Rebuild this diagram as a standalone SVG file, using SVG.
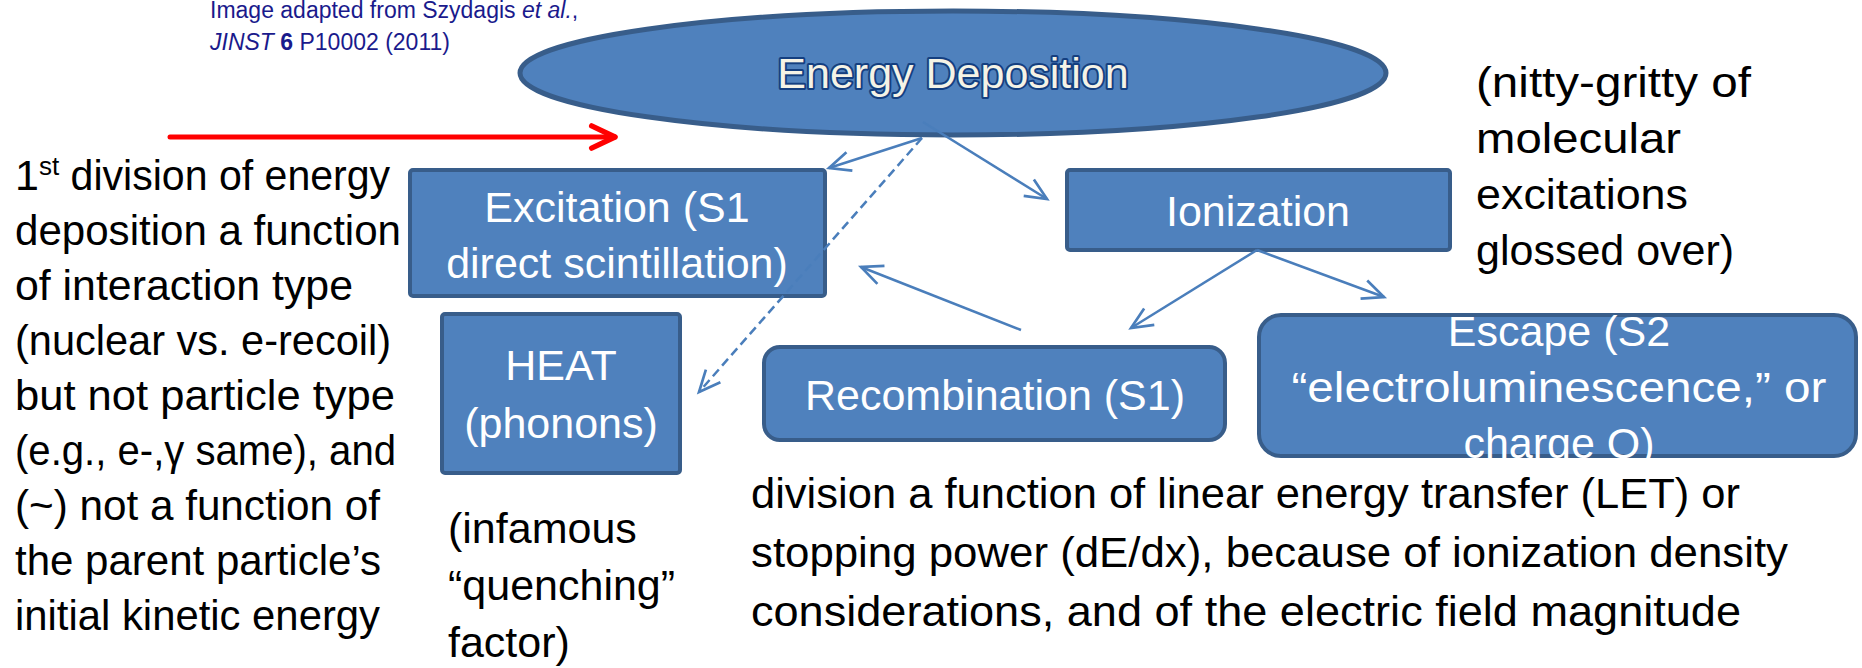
<svg xmlns="http://www.w3.org/2000/svg" width="1862" height="668" viewBox="0 0 1862 668">
<defs>
<style>
.box{fill:#4F81BD;stroke:#385D8A;stroke-width:4}
.bt{font-family:"Liberation Sans",Arial,sans-serif;font-size:43px;fill:#FFFFFF;text-anchor:middle}
.tx{font-family:"Liberation Sans",Arial,sans-serif;font-size:43px;fill:#000000}
.cite{font-family:"Liberation Sans",Arial,sans-serif;font-size:23px;fill:#1A1A8C}
.conn{fill:none;stroke:#4A7EBB;stroke-width:2.5}
.dash{stroke-dasharray:9 5}
</style>
<marker id="ah" markerUnits="userSpaceOnUse" markerWidth="30" markerHeight="30" viewBox="-24 -12 28 24" refX="0" refY="0" orient="auto">
<path d="M-20,-9 L0,0 L-20,9" fill="none" stroke="#4A7EBB" stroke-width="2.5" stroke-linejoin="miter"/>
</marker>
<marker id="ahr" markerUnits="userSpaceOnUse" markerWidth="34" markerHeight="34" viewBox="-28 -14 32 28" refX="0" refY="0" orient="auto">
<path d="M-22,-10.5 L0,0 L-22,10.5" fill="none" stroke="#FF0000" stroke-width="5" stroke-linecap="round" stroke-linejoin="round"/>
</marker>
</defs>

<g id="citation">
<text class="cite" x="210" y="18">Image adapted from Szydagis <tspan font-style="italic">et al.</tspan>,</text>
<text class="cite" x="210" y="50"><tspan font-style="italic">JINST</tspan> <tspan font-weight="bold">6</tspan> P10002 (2011)</text>
</g>

<g id="energy-deposition">
<ellipse cx="953" cy="73" rx="433" ry="62" fill="#4F81BD" stroke="#385D8A" stroke-width="5"/>
<text x="953" y="88" text-anchor="middle" font-family="'Liberation Sans',Arial,sans-serif" font-size="43" fill="#F5F3E6" stroke="#143F80" stroke-width="4" stroke-linejoin="round" paint-order="stroke">Energy Deposition</text>
</g>

<g id="excitation">
<rect class="box" x="410" y="170" width="415" height="126" rx="3"/>
<text class="bt" x="617" y="222">Excitation (S1</text>
<text class="bt" x="617" y="278">direct scintillation)</text>
</g>

<g id="ionization">
<rect class="box" x="1067" y="170" width="383" height="80" rx="3"/>
<text class="bt" x="1258" y="226">Ionization</text>
</g>

<g id="heat">
<rect class="box" x="442" y="314" width="238" height="159" rx="3"/>
<text class="bt" x="561" y="380">HEAT</text>
<text class="bt" x="561" y="438">(phonons)</text>
</g>

<g id="recombination">
<rect class="box" x="764" y="347" width="461" height="93" rx="16"/>
<text class="bt" x="995" y="410">Recombination (S1)</text>
</g>

<g id="escape">
<rect class="box" x="1259" y="315" width="597" height="141" rx="22"/>
<text class="bt" x="1559" y="346">Escape (S2</text>
<text class="bt" x="1559" y="402" textLength="535" lengthAdjust="spacingAndGlyphs">“electroluminescence,” or</text>
<text class="bt" x="1559" y="458">charge Q)</text>
</g>

<g id="connectors">
<line x1="170" y1="137" x2="615" y2="137" stroke="#FF0000" stroke-width="5" stroke-linecap="round" marker-end="url(#ahr)"/>
<line class="conn" x1="922" y1="138" x2="829" y2="168" marker-end="url(#ah)"/>
<line class="conn dash" x1="922" y1="138" x2="699" y2="392" marker-end="url(#ah)"/>
<line class="conn" x1="923" y1="122" x2="1047" y2="199" marker-end="url(#ah)"/>
<line class="conn" x1="1257" y1="250" x2="1131" y2="328" marker-end="url(#ah)"/>
<line class="conn" x1="1257" y1="250" x2="1384" y2="297" marker-end="url(#ah)"/>
<line class="conn" x1="1021" y1="330" x2="861" y2="267" marker-end="url(#ah)"/>
</g>

<g id="left-note">
<text class="tx" x="15" y="190">1<tspan font-size="26" dy="-15">st</tspan><tspan dy="15" textLength="331" lengthAdjust="spacingAndGlyphs"> division of energy</tspan></text>
<text class="tx" x="15" y="245" textLength="386" lengthAdjust="spacingAndGlyphs">deposition a function</text>
<text class="tx" x="15" y="300" textLength="338" lengthAdjust="spacingAndGlyphs">of interaction type</text>
<text class="tx" x="15" y="355" textLength="376" lengthAdjust="spacingAndGlyphs">(nuclear vs. e-recoil)</text>
<text class="tx" x="15" y="410" textLength="380" lengthAdjust="spacingAndGlyphs">but not particle type</text>
<text class="tx" x="15" y="465" textLength="381" lengthAdjust="spacingAndGlyphs">(e.g., e-,γ same), and</text>
<text class="tx" x="15" y="520" textLength="365" lengthAdjust="spacingAndGlyphs">(~) not a function of</text>
<text class="tx" x="15" y="575" textLength="366" lengthAdjust="spacingAndGlyphs">the parent particle’s</text>
<text class="tx" x="15" y="630" textLength="365" lengthAdjust="spacingAndGlyphs">initial kinetic energy</text>
</g>

<g id="right-note">
<text class="tx" x="1476" y="97" textLength="275" lengthAdjust="spacingAndGlyphs">(nitty-gritty of</text>
<text class="tx" x="1476" y="153" textLength="205" lengthAdjust="spacingAndGlyphs">molecular</text>
<text class="tx" x="1476" y="209" textLength="212" lengthAdjust="spacingAndGlyphs">excitations</text>
<text class="tx" x="1476" y="265">glossed over)</text>
</g>

<g id="quenching-note">
<text class="tx" x="448" y="543">(infamous</text>
<text class="tx" x="448" y="600">“quenching”</text>
<text class="tx" x="448" y="657">factor)</text>
</g>

<g id="bottom-note">
<text class="tx" x="751" y="508" textLength="989" lengthAdjust="spacingAndGlyphs">division a function of linear energy transfer (LET) or</text>
<text class="tx" x="751" y="567" textLength="1037" lengthAdjust="spacingAndGlyphs">stopping power (dE/dx), because of ionization density</text>
<text class="tx" x="751" y="626" textLength="990" lengthAdjust="spacingAndGlyphs">considerations, and of the electric field magnitude</text>
</g>
</svg>
